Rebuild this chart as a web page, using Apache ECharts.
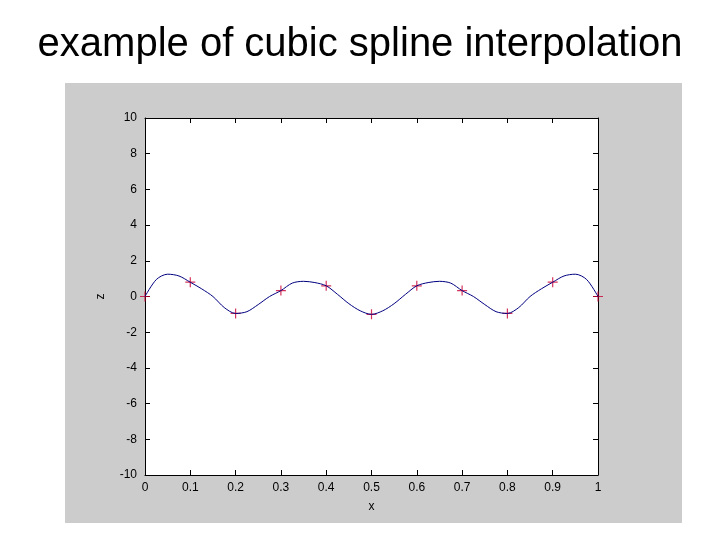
<!DOCTYPE html>
<html><head><meta charset="utf-8">
<script src="https://cdn.jsdelivr.net/npm/echarts@6/dist/echarts.min.js"></script>
<style>html,body{margin:0;background:#fff}#c{width:720px;height:540px}</style>
</head><body><div id="c"></div>
<script>
// knots (red +)
const knotX = [0, 0.1, 0.2, 0.3, 0.4, 0.5, 0.6, 0.7, 0.8, 0.9, 1]
const knotZ = [0, 0.8, -0.95, 0.33, 0.6, -1.0, 0.6, 0.33, -0.95, 0.8, 0]
// spline curve
const curveX = [0, 0.025, 0.05, 0.075, 0.1, 0.125, 0.15, 0.175, 0.2, 0.225, 0.25, 0.275, 0.3, 0.325, 0.35, 0.375, 0.4, 0.425, 0.45, 0.475, 0.5,
  0.525, 0.55, 0.575, 0.6, 0.625, 0.65, 0.675, 0.7, 0.725, 0.75, 0.775, 0.8, 0.825, 0.85, 0.875, 0.9, 0.925, 0.95, 0.975, 1]
const curveZ = [0, 0.95, 1.25, 1.15, 0.8, 0.43, 0.0, -0.62, -0.95, -0.85, -0.45, 0.0, 0.33, 0.75, 0.85, 0.78, 0.6, 0.12, -0.4, -0.8, -1.0,
  -0.8, -0.4, 0.12, 0.6, 0.78, 0.85, 0.75, 0.33, 0.0, -0.45, -0.85, -0.95, -0.62, 0.0, 0.43, 0.8, 1.15, 1.25, 0.95, 0]
const xTicks = ['0', '0.1', '0.2', '0.3', '0.4', '0.5', '0.6', '0.7', '0.8', '0.9', '1']

const chart = echarts.init(document.getElementById('c'))
const plus = 'path://M5,0L5,10M0,5L10,5'
const axisCommon = {
  axisLine: { onZero: false, lineStyle: { color: '#000' } },
  axisTick: { inside: true, length: 5, lineStyle: { color: '#000' } },
  splitLine: { show: false },
  axisLabel: { color: '#000', fontFamily: 'Arial', fontSize: 12 }
}
chart.setOption({
  animation: false,
  graphic: [{ type: 'rect', shape: { x: 65, y: 83, width: 617, height: 440 }, style: { fill: '#cccccc' }, z: -10 },
    { type: 'rect', shape: { x: 145, y: 118, width: 453, height: 357 }, style: { fill: '#fff' }, z: -9 }],
  title: { text: 'example of cubic spline interpolation', left: 'center', top: 20,
    textStyle: { fontFamily: 'Arial', fontWeight: 'normal', fontSize: 40, color: '#000' } },
  grid: { left: 145, right: 122, top: 118, bottom: 65 },
  xAxis: [
    { ...axisCommon, type: 'value', min: 0, max: 1, interval: 0.1, name: 'x', nameLocation: 'middle', nameGap: 26,
      nameTextStyle: { fontFamily: 'Arial', fontSize: 12 },
      axisLabel: { ...axisCommon.axisLabel, margin: 7, formatter: v => xTicks[Math.round(v * 10)] } },
    { ...axisCommon, type: 'value', min: 0, max: 1, interval: 0.1, position: 'top', axisLabel: { show: false } }
  ],
  yAxis: [
    { ...axisCommon, type: 'value', min: -10, max: 10, interval: 2, name: 'z', nameLocation: 'middle', nameGap: 38,
      nameTextStyle: { fontFamily: 'Arial', fontSize: 12 } },
    { ...axisCommon, type: 'value', min: -10, max: 10, interval: 2, position: 'right', axisLabel: { show: false } }
  ],
  series: [
    { type: 'line', smooth: 0.3, showSymbol: false, lineStyle: { color: '#000080', width: 1 },
      data: curveX.map((x, i) => [x, curveZ[i]]) },
    { type: 'scatter', symbol: plus, symbolSize: 10,
      itemStyle: { color: 'none', borderColor: '#cc0033', borderWidth: 1.2 },
      data: knotX.map((x, i) => [x, knotZ[i]]) }
  ]
})
</script></body></html>
